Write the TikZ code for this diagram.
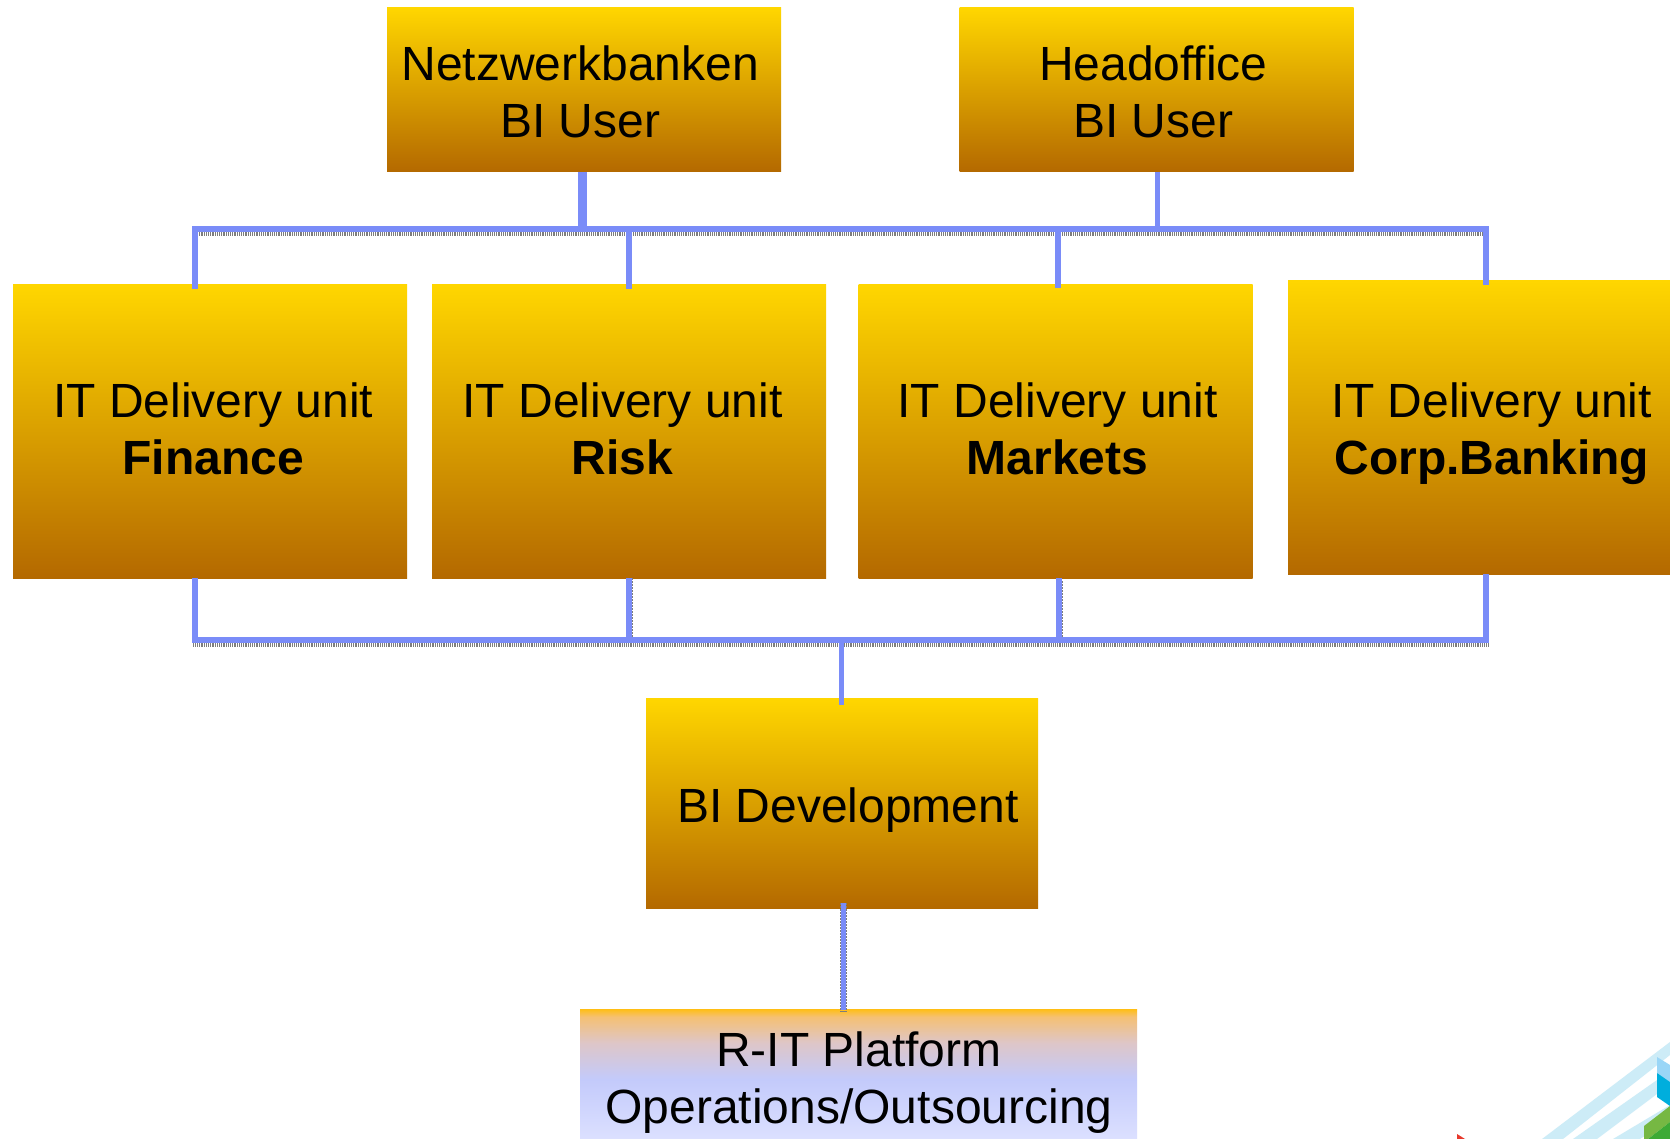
\documentclass[tikz,border=0pt]{standalone}
\usepackage{fontspec}
\setmainfont{Liberation Sans}
\definecolor{goldtop}{RGB}{255,214,0}
\definecolor{goldbot}{RGB}{180,105,0}
\definecolor{linkblue}{RGB}{122,140,248}
\definecolor{shadowgray}{RGB}{125,125,125}
\definecolor{ritA}{RGB}{220,224,255}
\definecolor{ritB}{RGB}{195,202,251}
\definecolor{ritC}{RGB}{222,198,200}
\definecolor{ritD}{RGB}{245,192,115}
\definecolor{ritE}{RGB}{255,190,20}
\definecolor{logoStripe}{RGB}{205,236,247}
\definecolor{logoSky}{RGB}{154,214,247}
\definecolor{logoCyan}{RGB}{0,174,221}
\definecolor{logoLime}{RGB}{118,184,67}
\definecolor{logoGreen}{RGB}{61,170,53}
\definecolor{logoRed}{RGB}{232,57,44}
\pgfdeclareverticalshading{ritshade}{100bp}{
  color(0bp)=(ritA);
  color(25bp)=(ritA);
  color(48bp)=(ritB);
  color(62bp)=(ritC);
  color(72bp)=(ritD);
  color(75bp)=(ritE);
  color(100bp)=(ritE)}
\tikzset{
  x=1pt,y=-1pt,
  goldbox/.style={rectangle,inner sep=0pt,outer sep=0pt,top color=goldtop,bottom color=goldbot,minimum width=394pt},
  ritbox/.style={rectangle,inner sep=0pt,outer sep=0pt,shading=ritshade,minimum width=557pt,minimum height=130pt},
  boxtext/.style={align=center,inner sep=0pt,font=\fontsize{48}{57}\selectfont},
  link/.style={draw=linkblue,line width=5.5pt,line cap=butt,line join=miter},
  fatlink/.style={draw=linkblue,line width=9pt},
  shade line/.style={draw=shadowgray,line width=4.5pt,dash pattern=on 1.2pt off 1pt},
  side shade/.style={draw=shadowgray,line width=7pt,dash pattern=on 1.5pt off 1.5pt},
}
\begin{document}
\begin{tikzpicture}
\useasboundingbox (0,0) rectangle (1670,1139);
\clip (0,0) rectangle (1670,1139);
\fill[white] (0,0) rectangle (1670,1139);
% logo fragment
\fill[logoStripe] (1670,1042) -- (1670,1055) -- (1563,1139) -- (1542,1139) -- cycle;
\fill[logoStripe] (1657,1080) -- (1657,1094) -- (1597,1139) -- (1573,1139) -- cycle;
\fill[logoStripe] (1670,1105) -- (1670,1120) -- (1640,1139) -- (1613,1139) -- cycle;
\fill[logoSky] (1657,1057) -- (1670,1065) -- (1670,1082) -- (1657,1073) -- cycle;
\fill[logoCyan] (1657,1073) -- (1670,1082) -- (1670,1106) -- (1657,1097) -- cycle;
\fill[logoLime] (1670,1106) -- (1644,1126) -- (1644,1139) -- (1648,1139) -- (1670,1122) -- cycle;
\fill[logoGreen] (1670,1122) -- (1648,1139) -- (1670,1139) -- cycle;
\fill[logoRed] (1457,1134) -- (1465,1139) -- (1457,1139) -- cycle;
% boxes
\node[goldbox,minimum height=164pt] (netz) at (584,90) {};
\node[goldbox,minimum height=164pt] (head) at (1156.5,90) {};
\node[goldbox,minimum height=293pt] (fin) at (210,431.5) {};
\node[goldbox,minimum height=293pt] (risk) at (629,431.5) {};
\node[goldbox,minimum height=293pt] (mark) at (1055.5,431.5) {};
\node[goldbox,minimum height=293pt] (corp) at (1485,427.5) {};
\node[goldbox,minimum width=392pt,minimum height=210pt] (dev) at (842,803.5) {};
\node[ritbox] (rit) at (858.5,1074) {};
% texts
\node[boxtext] (netzt) at (580.3,92) {Netzwerkbanken\\BI User};
\node[boxtext] (headt) at (1153.3,92) {Headoffice\\BI User};
\node[boxtext] (fint) at (213.3,429) {IT Delivery unit\\\textbf{Finance}};
\node[boxtext] (riskt) at (622.5,429) {IT Delivery unit\\\textbf{Risk}};
\node[boxtext] (markt) at (1057.5,429) {IT Delivery unit\\\textbf{Markets}};
\node[boxtext] (corpt) at (1491.8,434) {IT Delivery unit\\\textbf{Corp.Banking}};
\node[boxtext] (devt) at (848,810) {BI Development};
\node[boxtext] (ritt) at (859,1082.5) {R-IT Platform\\Operations/Outsourcing};
% bus coordinates
\coordinate (topL) at (195,229);
\coordinate (topR) at (1486,229);
\coordinate (botL) at (195,640);
\coordinate (botR) at (1486,640);
\coordinate (botM) at (841.5,640);
% shadow lines
\draw[shade line] ([xshift=-2.5pt,yshift=-4.5pt]topL) -- ([yshift=-4.5pt]topR);
\draw[shade line] ([xshift=-2.5pt,yshift=-4.5pt]botL) -- ([xshift=2.5pt,yshift=-4.5pt]botR);
\draw[side shade] (risk.south) -- (risk.south |- botL);
\draw[side shade] (1059,581) -- (1059,640);
\draw[side shade] (843.5,903) -- (843.5,1012);
% connectors
\draw[fatlink] (582.5,172) -- (582.5,229);
\draw[link] ([xshift=1pt]head.south) -- ([xshift=1pt]head.south |- topR);
\draw[link] ([xshift=-2.75pt]topL) -- ([xshift=2.75pt]topR);
\draw[link] ([yshift=-4pt]topL |- fin.north) -- (topL);
\draw[link] ([yshift=-4pt]risk.north) -- (risk.north |- topL);
\draw[link] (1058,288) -- (1058,229);
\draw[link] ([yshift=-4pt]topR |- corp.north) -- (topR);
\draw[link] ([xshift=-2.75pt]botL) -- ([xshift=2.75pt]botR);
\draw[link] (botL |- fin.south) -- (botL);
\draw[link] (risk.south) -- (risk.south |- botL);
\draw[link] (1059,578) -- (1059,640);
\draw[link] (botR |- corp.south) -- (botR);
\draw[link] (botM) -- ([yshift=-6pt]botM |- dev.north);
\draw[link] (843.5,903) -- (843.5,1010);
\end{tikzpicture}
\end{document}
